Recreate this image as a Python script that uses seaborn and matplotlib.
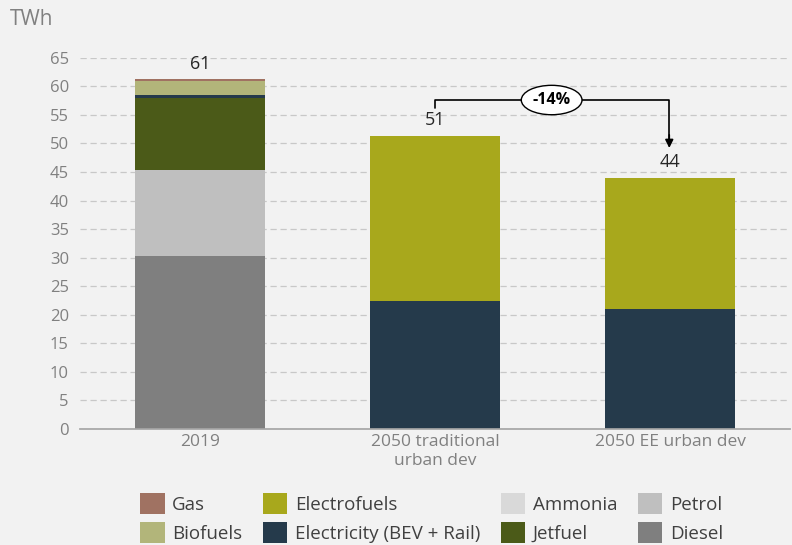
import numpy as np
import pandas as pd
import seaborn as sns
import matplotlib.pyplot as plt
from matplotlib.patches import Patch

# data (TWh)
scenarios = ["2019", "2050 traditional\nurban dev", "2050 EE urban dev"]
fuels = ["Diesel", "Petrol", "Jetfuel", "Ammonia", "Electricity (BEV + Rail)",
         "Electrofuels", "Biofuels", "Gas"]
diesel = [30.2, 0, 0]
petrol = [15.2, 0, 0]
jetfuel = [12.6, 0, 0]
ammonia = [0, 0, 0]
electricity = [0.4, 22.4, 21.0]
electrofuels = [0, 28.9, 23.0]
biofuels = [2.6, 0, 0]
gas = [0.2, 0, 0]
totals_label = ["61", "51", "44"]

colors = {"Diesel": "#7f7f7f", "Petrol": "#bfbfbf", "Jetfuel": "#4b5a18",
          "Ammonia": "#d9d9d9", "Electricity (BEV + Rail)": "#253a4b",
          "Electrofuels": "#a8a81c", "Biofuels": "#b2b57a", "Gas": "#a07262"}

df = pd.DataFrame([diesel, petrol, jetfuel, ammonia, electricity,
                   electrofuels, biofuels, gas], index=fuels, columns=scenarios)
cum = df.cumsum()

sns.set_theme(style="white")
plt.rcParams["font.family"] = ["Open Sans", "DejaVu Sans"]
bg = "#f2f2f2"
grey = "#808080"

fig = plt.figure(figsize=(7.92, 5.45), dpi=100, facecolor=bg)
ax = fig.add_axes([0.101, 0.213, 0.897, 0.681], facecolor=bg)

# overlay cumulative bars from top layer down
for f in fuels[::-1]:
    sns.barplot(x=scenarios, y=cum.loc[f].values, color=colors[f], width=0.553,
                saturation=1, ax=ax, linewidth=0, zorder=3)

ax.set_ylim(0, 65)
ax.set_xlim(-0.51, 2.51)
ax.set_yticks(range(0, 66, 5))
ax.yaxis.grid(True, linestyle=(0, (5, 3)), color="#c8c8c8", linewidth=0.9, zorder=0)
for s in ["top", "right", "left"]:
    ax.spines[s].set_visible(False)
ax.spines["bottom"].set_color("#a6a6a6")
ax.spines["bottom"].set_zorder(4)
ax.tick_params(axis="y", length=0, labelsize=12, labelcolor=grey, pad=8)
ax.tick_params(axis="x", length=0, labelsize=12.5, labelcolor=grey, pad=4)
ax.set_xlabel("")
ax.set_ylabel("")

tot = df.sum().values
for i, t in enumerate(totals_label):
    ax.annotate(t, (i, tot[i]), xytext=(0, 5), textcoords="offset points",
                ha="center", va="bottom", fontsize=13, color="#262626")

# bracket arrow
yb = 57.6
ax.plot([1, 1, 1.995, 1.995], [56.2, yb, yb, 50.5], color="black", lw=1.2, zorder=5)
ax.annotate("", xy=(1.995, 49.2), xytext=(1.995, 51.5),
            arrowprops=dict(arrowstyle="-|>", color="black", lw=1.2,
                            mutation_scale=12, shrinkA=0, shrinkB=0), zorder=5)
ax.text(1.495, yb, "-14%", ha="center", va="center", fontsize=11.5,
        fontweight="bold", color="black", zorder=6,
        bbox=dict(boxstyle="ellipse,pad=0.15", fc="white", ec="black", lw=1))

fig.text(0.013, 0.965, "TWh", fontsize=15, color=grey, ha="left", va="center")

order = ["Gas", "Biofuels", "Electrofuels", "Electricity (BEV + Rail)",
         "Ammonia", "Jetfuel", "Petrol", "Diesel"]
handles = [Patch(facecolor=colors[f], edgecolor="none", label=f) for f in order]
fig.legend(handles=handles, ncol=4, loc="lower center", bbox_to_anchor=(0.545, -0.027),
           frameon=False, fontsize=13.5, handlelength=1.3, handleheight=1.3,
           handletextpad=0.4, columnspacing=1.1, labelspacing=0.45,
           labelcolor="#404040")

fig.savefig("out.png", dpi=100, facecolor=bg)
